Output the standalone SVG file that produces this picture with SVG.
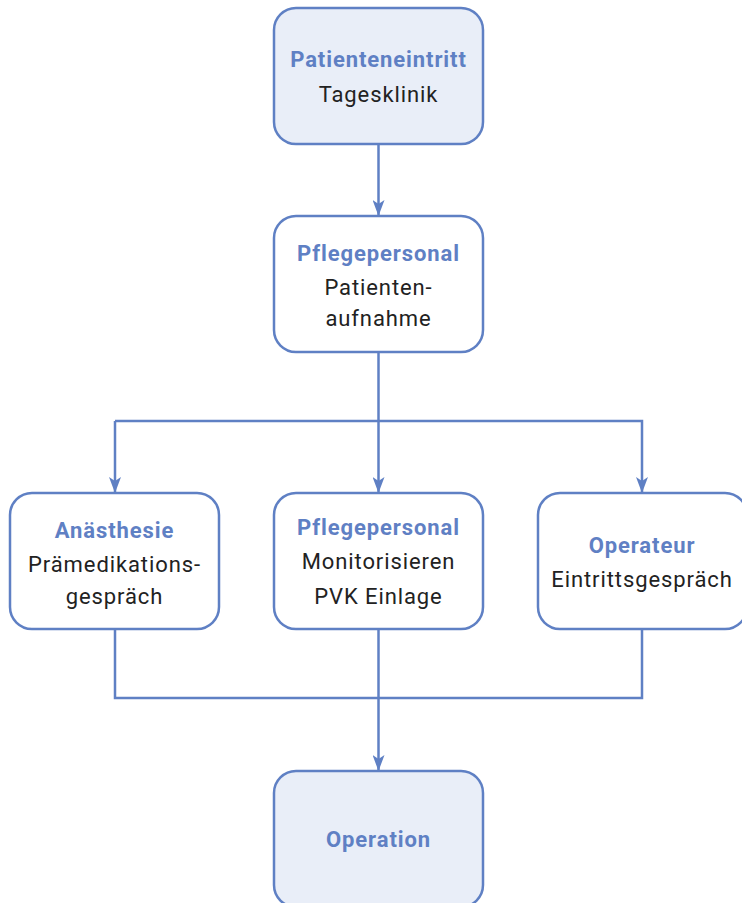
<svg xmlns="http://www.w3.org/2000/svg" width="742" height="903" viewBox="0 0 742 903">
<style>
.box{stroke:#5f80c4;stroke-width:2.5}
.hl{fill:#e9eef8}
.wh{fill:#ffffff}
.t{font-family:Roboto,"Liberation Sans",sans-serif;font-weight:bold;font-size:22px;letter-spacing:0.9px;fill:#5f80c4;text-anchor:middle}
.s{font-family:Roboto,"Liberation Sans",sans-serif;font-size:22px;letter-spacing:0.9px;fill:#222222;text-anchor:middle}
.c{fill:none;stroke:#5f80c4;stroke-width:2.5}
</style>
<defs>
<marker id="ah" markerWidth="16" markerHeight="12" refX="16" refY="6" orient="auto" markerUnits="userSpaceOnUse" viewBox="0 0 16 12">
<path d="M0,0 L16,6 L0,12 L4,6 Z" fill="#5f80c4"/>
</marker>
</defs>
<rect width="742" height="903" fill="#ffffff"/>
<g id="connectors">
<path class="c" d="M378.5,144 V216" marker-end="url(#ah)"/>
<path class="c" d="M378.5,352 V493" marker-end="url(#ah)"/>
<path class="c" d="M115,421 H642 V493" marker-end="url(#ah)"/>
<path class="c" d="M115,421 V493" marker-end="url(#ah)"/>
<path class="c" d="M115,629 V698 H642 V629"/>
<path class="c" d="M378.5,629 V771" marker-end="url(#ah)"/>
</g>
<g id="n1">
<rect class="box hl" x="274" y="8" width="209" height="136" rx="22"/>
<text class="t" x="378.5" y="67">Patienteneintritt</text>
<text class="s" x="378.5" y="102">Tagesklinik</text>
</g>
<g id="n2">
<rect class="box wh" x="274" y="216" width="209" height="136" rx="22"/>
<text class="t" x="378.5" y="261">Pflegepersonal</text>
<text class="s" x="378.5" y="295">Patienten-</text>
<text class="s" x="378.5" y="326">aufnahme</text>
</g>
<g id="n3">
<rect class="box wh" x="10" y="493" width="209" height="136" rx="22"/>
<text class="t" x="114.5" y="538">Anästhesie</text>
<text class="s" x="114.5" y="572">Prämedikations-</text>
<text class="s" x="114.5" y="604">gespräch</text>
</g>
<g id="n4">
<rect class="box wh" x="274" y="493" width="209" height="136" rx="22"/>
<text class="t" x="378.5" y="535">Pflegepersonal</text>
<text class="s" x="378.5" y="569">Monitorisieren</text>
<text class="s" x="378.5" y="604">PVK Einlage</text>
</g>
<g id="n5">
<rect class="box wh" x="538" y="493" width="209" height="136" rx="22"/>
<text class="t" x="642" y="553">Operateur</text>
<text class="s" x="642" y="587">Eintrittsgespräch</text>
</g>
<g id="n6">
<rect class="box hl" x="274" y="771" width="209" height="136" rx="22"/>
<text class="t" x="378.5" y="847">Operation</text>
</g>
</svg>
